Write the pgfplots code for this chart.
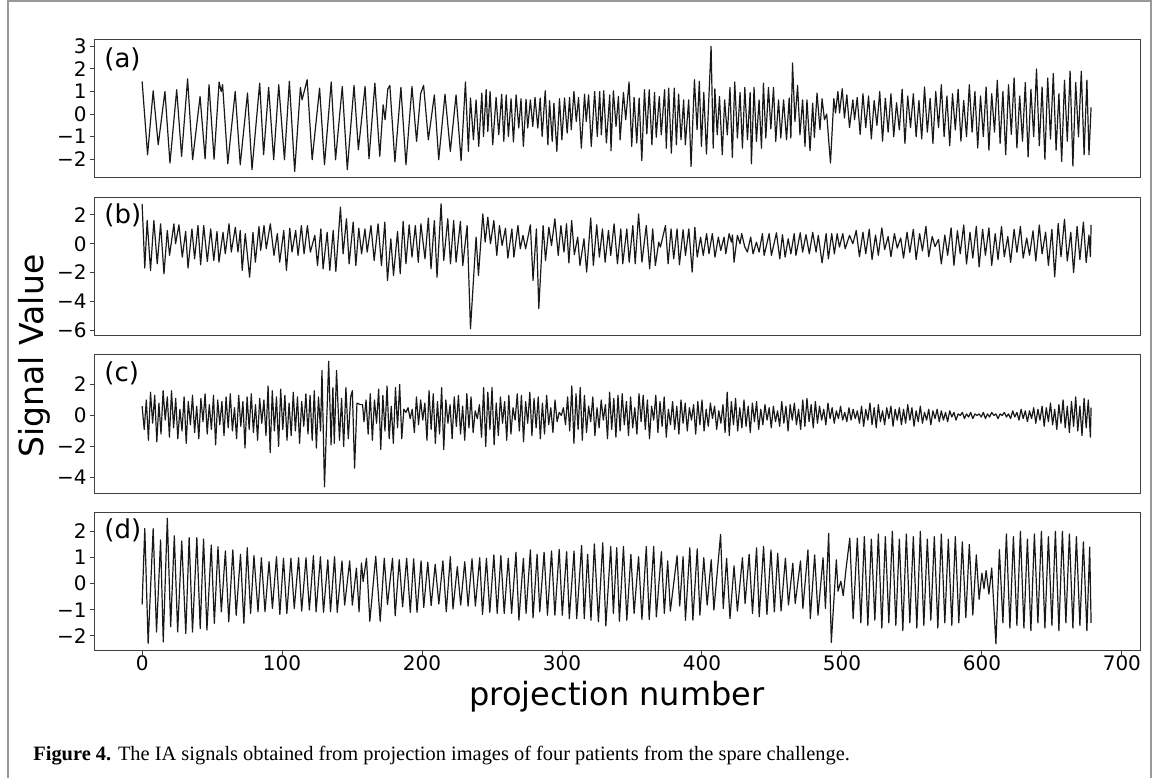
\documentclass[border=0pt]{standalone}
\usepackage{fontspec}
\setmainfont{DejaVu Sans}
\newfontfamily\capfont{Liberation Serif}
\usepackage{pgfplots}
\pgfplotsset{compat=1.18}
\pgfplotsset{
  panel/.style={
    scale only axis, width=522.7pt, height=69pt,
    xmin=-33.95, xmax=712.95,
    axis line style={black!75, line width=0.5pt},
    every tick/.style={black!75, line width=0.5pt},
    major tick length=2.5pt,
    tick align=outside,
    ytick pos=left, xtick pos=bottom,
    ticklabel style={font=\fontsize{10}{11}\selectfont},
    yticklabel style={xshift=2pt},
    xticklabel style={yshift=3.3pt},
    /pgf/number format/assume math mode=true,
  },
  sig/.style={black!90, line width=0.6pt, mark=none, line join=round},
}
\tikzset{plab/.style={anchor=west, inner sep=0pt, font=\fontsize{13}{13}\selectfont}}
\begin{document}
\begin{tikzpicture}
\draw[black!40, line width=0.6pt] (4pt,0pt) -- (4pt,388.5pt) -- (575.5pt,388.5pt) -- (575.5pt,0pt);
\path (0,0) rectangle (576.5pt,389pt);
% (a)
\begin{axis}[panel, at={(47.3pt,300pt)}, anchor=south west, ymin=-2.83, ymax=3.28, xtick=\empty,
  ytick={-2,-1,0,1,2,3}, yticklabels={−2,−1,0,1,2,3}]
\addplot[sig] coordinates {
(0,1.45)(3.9,-1.8)(7.9,1.03)(11.5,-1.36)(16.3,1.0)(19.9,-2.17)(24.7,1.08)(28.2,-1.87)(32.5,1.56)(36.1,-2.02)(41.4,0.78)(45,-1.98)(47.8,1.3)(51.4,-2.0)(55,1.42)(56.5,1.0)(57.5,1.3)(61.2,-2.2)(66.5,1.0)(70.1,-2.24)(75.3,0.93)(78.5,-2.46)(84,1.37)(86.8,-1.8)(90.4,1.18)(94,-2.02)(97.6,1.3)(101.7,-2.02)(105.2,1.45)(109,-2.54)(113.1,1.18)(114.3,0.63)(117.9,1.52)(121.5,-2.02)(126.8,1.15)(130.3,-2.24)(135.1,1.42)(138.2,-2.02)(143,1.22)(146.6,-2.46)(151.4,1.27)(154.5,-1.58)(159.3,1.22)(162.1,-1.98)(166.3,1.37)(169.8,-1.87)(172.2,0.41)(173.6,-0.25)(175.5,1.1)(177,1.27)(180.6,-2.12)(184.9,1.18)(188.5,-2.24)(192.8,1.22)(196.1,-1.21)(199,0.9)(201.1,1.27)(204.5,-1.14)(208.8,0.85)(211.9,-2.02)(216.4,0.88)(220.2,-1.65)(224.3,0.85)(227.9,-2.06)(231,1.42)(233.1,-1.65)(234.6,0.71)(236.7,-1.14)(238.6,0.63)(240.5,-1.43)(242.7,0.93)(243.9,-0.99)(245.8,1.08)(247,-0.77)(248.6,1.0)(250.5,-1.36)(252.9,0.74)(254.8,-0.92)(256.9,0.88)(258.4,-1.21)(260.1,0.85)(261.7,-0.99)(263.6,0.68)(265.3,-1.24)(267.2,0.85)(269.1,-0.62)(270.7,0.68)(272.4,-1.43)(274.3,0.66)(275.5,-0.62)(277.4,0.63)(279.1,-0.55)(280.7,0.74)(282.7,-0.62)(284.4,0.71)(285.8,-0.99)(288,1.03)(289.9,-1.36)(291.1,0.59)(293,-1.21)(294.2,0.48)(296.3,-1.65)(298.2,0.68)(299.9,-1.14)(301.8,0.71)(303.7,-0.84)(305.4,0.74)(306.6,-0.69)(308.5,1.0)(310.2,-0.33)(311.8,0.74)(313.8,-1.51)(316.1,0.88)(317.3,-0.33)(319,0.85)(320.9,-1.43)(323.3,1.0)(325.2,-0.99)(326.9,1.0)(328.1,-0.92)(329.8,1.03)(331.7,-1.28)(334.1,0.85)(335,-1.62)(336.7,1.03)(338.6,-0.55)(340.3,0.78)(341.5,-1.14)(343.9,0.96)(345.5,-0.25)(347.9,1.42)(349.8,-1.43)(351.5,0.74)(353.4,-1.28)(355.1,0.71)(357,-2.06)(358.9,1.08)(360.6,-0.88)(362.3,1.08)(364.2,-1.36)(366.1,0.96)(367.3,-1.03)(369.5,0.78)(370.9,-0.92)(373.3,1.08)(374.5,-1.51)(376.2,1.15)(378.1,-1.73)(380.2,1.15)(381.7,-1.36)(383.3,0.88)(385,-1.14)(386.9,0.63)(388.1,-1.36)(390.5,0.63)(392.2,-2.32)(394.6,1.52)(396.5,-0.69)(398.1,1.45)(399.6,-1.43)(401.3,0.96)(403.2,-1.77)(406.5,3.0)(408,-1.51)(409.2,1.12)(410.9,-0.92)(412.5,0.78)(414.5,-1.8)(416.2,0.63)(418.1,-0.92)(420,1.18)(421.7,-1.92)(423.4,1.42)(425.3,-1.06)(427.2,0.96)(428.9,-1.51)(430.6,1.18)(432.5,-1.14)(434.4,0.96)(435.3,-2.2)(437.2,1.18)(438.9,-1.21)(440.8,0.63)(442.5,-1.51)(443.9,1.37)(445.6,-1.06)(447.5,1.18)(449.2,-0.65)(451.1,1.18)(452.7,-1.21)(454.7,0.63)(456.3,-1.06)(458.3,0.63)(460.4,-1.14)(462.3,0.71)(463.5,-1.06)(464.7,2.26)(466.4,-0.33)(468.3,1.27)(470,-0.92)(471.9,0.63)(473.6,-1.43)(475,0.63)(477.2,-1.62)(479.1,0.48)(480.3,-1.03)(482.2,0.93)(484.3,-0.69)(485.8,0.68)(487.5,-0.25)(489.1,0.0)(491.8,-2.17)(494.2,0.68)(495.4,0.05)(497.1,1.0)(498.3,0.05)(500.2,1.12)(501.8,-0.18)(503.5,0.85)(505.4,-0.6)(507.8,0.63)(509,-0.25)(510.9,0.74)
(513,-0.9)(515,0.9)(517,-0.6)(519,0.8)(521,-1.1)(523,0.6)(525,-0.5)(527,1.0)(529,-1.2)(531,0.7)(533,-0.8)(535,0.9)(537,-1.0)(539,0.5)(541,-0.7)(543,1.1)(545,-1.3)(547,0.8)(549,-0.6)(551,0.9)(553,-1.0)(555,0.6)(557,-1.1)(559,1.2)(561,-0.8)(563,0.7)(565,-1.3)(567,1.0)(569,-0.6)(571,1.3)(573,-1.0)(575,0.8)(577,-1.4)(579,0.9)(581,-0.7)(583,1.1)(585,-1.2)(587,0.6)(589,-1.0)(591,1.3)(593,-0.8)(595,1.0)(597,-1.5)(599,0.8)(601,-1.0)(603,1.2)(605,-1.6)(607,0.9)(609,-0.8)(611,1.5)(613,-1.3)(615,1.0)(617,-1.8)(619,1.3)(621,-0.9)(623,1.6)(625,-1.5)(627,0.8)(629,-1.2)(631,1.4)(633,-1.9)(635,1.1)(637,-1.0)(639,2.0)(641,-1.4)(643,1.2)(645,-2.0)(647,1.6)(649,-1.1)(651,1.8)(653,-1.6)(655,0.9)(657,-2.1)(659,1.5)(661,-1.2)(663,1.9)(665,-2.3)(667,1.4)(669,-1.0)(671,1.9)(673,-1.8)(675,1.5)(676.5,-1.8)(678,0.3)
};
\node[plab] at (rel axis cs:0.009,0.86) {(a)};
\end{axis}
% (b)
\begin{axis}[panel, at={(47.3pt,221.5pt)}, anchor=south west, ymin=-6.33, ymax=3.24, xtick=\empty,
  ytick={-6,-4,-2,0,2}, yticklabels={−6,−4,−2,0,2}]
\addplot[sig] coordinates {
(0,2.77)(1.9,-1.69)(3.6,1.61)(6,-1.85)(8.4,1.61)(10.8,-1.39)(13.2,1.38)(15.6,-2.09)(18,0.92)(19.6,-0.81)(22.7,1.38)(23.9,0)(26.3,1.31)(28.7,-0.93)(31.1,0.85)(32.8,-1.69)(35.6,1.03)(37.5,-1.05)(39.9,1.26)(41.8,-1.46)(44,1.26)(46.6,-1.23)(49,1.03)(51.2,-1.16)(53.5,0.85)(54.9,-1.28)(57.8,0.79)(59.4,-0.7)(62.1,1.38)(63.7,-0.58)(66.6,1.14)(68.5,-0.58)(70.1,0.92)(71.5,-1.85)(73.7,0.7)(76.8,-2.32)(79.2,0.79)(80.9,-1.28)(83.5,1.2)(84.7,-0.46)(87.1,1.26)(88.7,-0.35)(91.6,1.38)(94.2,-0.81)(96.6,0.7)(98.3,-1.28)(101.2,0.92)(103.1,-1.85)(105.5,1.08)(107.1,-0.58)(109.7,0.92)(111.4,-0.81)(113.8,1.26)(115.7,-0.7)(118.1,1.26)(120.2,-0.58)(123.4,0.58)(125.3,-1.51)(127.7,1.03)(129.3,-1.74)(132.2,0.79)(134.1,-1.85)(136.5,0.92)(138.4,-1.92)(141.7,2.54)(143.6,-0.7)(146,1.73)(147.9,-1.39)(150.8,1.5)(152.7,-1.51)(154.8,1.08)(156.8,-0.7)(159.2,1.03)(160.8,-0.58)(163.5,1.26)(165.8,-1.16)(168.6,1.38)(171,-1.51)(173.4,1.5)(175.3,-2.55)(177.7,0.34)(179.6,-2.2)(182.5,0.85)(184.4,-2.09)(186.5,1.55)(188.5,-1.39)(190.8,1.31)(192.8,-0.93)(195.2,1.26)(197.3,-1.28)(199.2,1.38)(202.1,-1.05)(204.5,1.78)(206.4,-1.74)(208.8,1.61)(210.7,-2.32)(213.6,2.77)(215.5,-1.16)(218.4,1.73)(220.3,-1.39)(222.6,1.61)(224.3,-1.28)(227.4,1.55)(229.1,-1.51)(232.2,1.26)(234.6,-5.9)(238.6,0.46)(240.3,-2.2)(243.4,2.07)(245.1,0.11)(247,1.84)(248.9,0)(251.3,1.61)(253.4,-0.81)(255.3,1.26)(257.2,-0.12)(259.6,1.08)(261.3,-1.0)(264.2,1.03)(265.6,-0.93)(268.5,1.26)(270.2,-0.35)(272.1,0.58)(274,-0.35)(277.4,1.31)(279.3,-2.55)(281.7,1.03)(283.4,-4.5)(286.5,1.26)(288.2,-1.16)(290.6,1.14)(292.5,-0.12)(294.9,1.73)(297.3,-0.81)(299.2,1.26)(301.4,-0.58)(303.2,1.38)(304.9,-1.33)(306.9,1.61)(308.8,-0.76)(311.2,0.46)(312.8,-1.51)(315.7,0.34)(317.6,-1.97)(320.5,1.78)(322.4,-1.51)(324.8,1.31)(326.7,-0.93)(328.9,1.03)(330.8,-1.28)(333.2,0.92)(334.8,-0.81)(337.2,1.38)(339.6,-1.39)(342,1.03)(343.4,-1.39)(346.3,1.03)(348,-1.28)(350.6,1.26)(352.3,-1.39)(354.7,2.07)(357.1,-1.28)(360.2,1.26)(362.6,-1.74)(364.8,1.03)(366.7,-1.51)(369.1,0.11)(370.3,-0.23)(373.9,1.26)(375.8,-1.39)(377.9,1.03)(379.8,-1.05)(382.2,1.03)(383.9,-1.46)(386.5,0.97)(388.2,-0.81)(390.6,1.03)(393,-1.97)(394.9,1.14)(396.6,-0.93)(399,0.46)(400.9,-0.81)(403.3,0.7)(405,-0.7)(407.4,0.7)(409.3,-0.93)(411.7,0.46)(413.4,-0.46)(415.8,0.46)(417,-0.7)(419.4,0.7)(421,0.11)(421.8,0.6)(422.9,-1.28)(425.3,0.58)(427.2,0)(428.4,0.7)(430.5,-0.2)(432.4,-0.58)(434.8,0.46)(436.5,-0.7)(438.9,0.11)(440.8,-0.58)(443.2,0.7)(444.4,-0.81)(448,0.7)(449.6,-0.81)(453.2,0.76)(455.6,-1.05)(457.5,0.63)(459.4,-0.93)(461.6,0.34)(463.5,-0.7)(465.9,0.7)(467.1,-0.81)(470.2,0.76)(471.9,-0.58)(474.3,0.63)(476.7,-0.7)(479.1,0.79)(481.5,-0.58)(483.1,0.58)(485.8,-1.33)(488.7,0.7)(490.3,-1.05)(492.7,0.7)(494.6,-0.7)(496.6,0.7)(498.2,-0.23)(500.6,0.7)(502.3,-0.35)(505.4,0.58)(507.8,0)(510.2,0.92)
(512.5,-0.9)(515,0.8)(517,-0.7)(519.5,1.0)(521.5,-1.1)(524,0.6)(526,-0.8)(528.5,1.1)(530.5,-0.4)(533,0.5)(535,-0.9)(537.5,0.7)(539.5,-0.3)(542,0.4)(544,-1.0)(546.5,0.8)(548.5,-0.6)(551,1.0)(553,-1.1)(555.5,0.7)(557.5,-0.5)(560,1.2)(562,-0.9)(564.5,0.5)(566.5,-0.2)(569,0.3)(571,-1.4)(573.5,0.6)(575.5,-0.8)(578,1.1)(580,-1.5)(582.5,0.9)(584.5,-0.7)(587,1.3)(589,-1.4)(591.5,0.8)(593.5,-1.0)(596,1.2)(598,-1.6)(600.5,1.0)(602.5,-0.8)(605,1.1)(607,-1.5)(609.5,0.7)(611.5,-1.1)(614,1.2)(616,-0.9)(618.5,0.5)(620.5,-1.3)(623,1.0)(625,-0.6)(627.5,1.2)(629.5,-1.0)(632,0.4)(634,-0.8)(636.5,0.9)(638.5,-1.2)(641,1.3)(643,-0.7)(645.5,0.8)(647.5,-1.5)(650,1.0)(652,-2.3)(654.5,1.4)(656.5,-0.9)(659,1.7)(661,-1.2)(663.5,0.8)(665.5,-2.0)(668,1.2)(670,-1.1)(672.5,1.5)(674.5,-1.3)(676.5,0.6)(677.5,-0.9)(678,1.3)
};
\node[plab] at (rel axis cs:0.009,0.87) {(b)};
\end{axis}
% (c)
\begin{axis}[panel, at={(47.3pt,142.5pt)}, anchor=south west, ymin=-5.0, ymax=3.9, xtick=\empty,
  ytick={-4,-2,0,2}, yticklabels={−4,−2,0,2}]
\addplot[sig] coordinates {
(0,0.6)(1.5,-0.9)(3,1.0)(4.5,-1.6)(6,1.5)(7.5,-0.5)(9,1.3)(10.5,-1.7)(12,0.8)(13.5,-1.2)(15,1.6)(16.5,-0.3)(18,1.2)(19.5,-1.4)(21,1.6)(22.5,-0.8)(24,1.1)(25.5,-1.5)(27,0.4)(28.5,-1.0)
(30,1.2)(31.5,-1.8)(33,0.9)(34.5,-0.6)(36,1.3)(37.5,-1.1)(39,0.6)(40.5,-1.5)(42,1.1)(43.5,-0.4)(45,1.4)(46.5,-1.2)(48,0.7)(49.5,-0.9)(51,1.3)(52.5,-1.9)(54,1.0)(55.5,-0.6)(57,0.9)(58.5,-1.3)
(60,1.2)(61.5,-0.8)(63,1.4)(64.5,-1.0)(66,0.5)(67.5,-1.5)(69,1.3)(70.5,-0.7)(72,0.9)(73.5,-2.1)(75,1.2)(76.5,-0.9)(78,1.4)(79.5,-1.1)(81,0.7)(82.5,-1.6)(84,1.1)(85.5,-0.5)(87,1.0)(88.5,-1.3)
(90,1.9)(91.5,-2.4)(93,1.6)(94.5,-1.0)(96,1.2)(97.5,-2.0)(99,1.7)(100.5,-0.9)(102,1.3)(103.5,-1.6)(105,0.8)(106.5,-1.3)(108,1.5)(109.5,-1.0)(111,1.2)(112.5,-1.8)(114,0.9)(115.5,-0.7)(117,1.4)(118.5,-1.2)
(120,1.3)(121.5,-1.6)(123,1.6)(124.5,-2.1)(126,1.2)(127.5,-1.0)
(128.5,2.9)(130.3,-4.6)(133.3,3.5)(135,-1.9)(136.3,1.8)(137.3,-1.8)(138.9,2.9)(141,-1.6)(142.5,1.1)(144,-2.0)(145.6,1.8)(147.3,-1.5)(149,1.2)(150.2,1.6)(151.8,-3.4)(153.5,0.8)(156,0.7)(157.5,0.7)(158.5,-0.4)(160,1.0)(161.5,-1.2)(163,1.4)
(164.5,-1.6)(166,1.0)(167.5,-0.5)(169,1.7)(170.5,-2.2)(172,1.3)(173.5,-1.0)(175,1.9)(176.5,-1.5)(178,0.6)(179.5,-1.8)(181,1.8)(182.5,-0.8)(184,2.0)(185.5,-1.5)(187,0.4)(188.5,0.2)(190,0.5)(191.5,-0.2)(193,0.4)
(194.5,-1.1)(196,1.2)(197.5,-0.6)(199,1.0)(200.5,-0.3)(202,0.8)(203.5,-1.6)(205,1.6)(206.5,-0.9)(208,1.4)(209.5,-1.8)(211,0.9)(212.5,-1.2)(214,1.8)(215.5,-2.2)(217,1.0)(218.5,-0.5)(220,0.7)(221.5,-1.5)(223,1.2)
(224.5,-0.7)(226,1.3)(227.5,-1.2)(229,0.6)(230.5,-1.6)(232,1.4)(233.5,-0.8)(235,1.2)(236.5,-1.1)(238,0.3)(239.5,-0.2)(241,0.7)(242.5,-1.4)(244,1.8)(245.5,-2.0)(247,1.5)(248.5,-0.9)(250,1.8)(251.5,-1.9)(253,0.8)
(254.5,-1.3)(256,1.2)(257.5,-0.5)(259,0.9)(260.5,-1.6)(262,1.3)(263.5,-1.2)(265,0.5)(266.5,-0.3)(268,1.4)(269.5,-1.0)(271,1.3)(272.5,-1.7)(274,0.9)(275.5,-0.5)(277,1.5)(278.5,-1.3)(280,1.1)(281.5,-0.8)(283,1.2)
(284.5,-1.5)(286,0.8)(287.5,-1.2)(289,1.3)(290.5,-0.6)(292,0.5)(293.5,-1.1)(295,1.0)(296.5,-0.4)(298,0.2)(299.5,0.0)(301,0.5)(302.5,-0.6)(304,1.2)(305.5,-1.0)(307,1.9)(308.5,-1.8)(310,1.4)(311.5,-0.9)(313,1.8)
(314.5,-1.6)(316,1.3)(317.5,-1.1)(319,0.6)(320.5,-0.4)(322,1.2)(323.5,-1.3)(325,0.5)(326.5,-0.8)(328,1.0)(329.5,-0.3)(331,0.7)(332.5,-1.5)(334,1.5)(335.5,-0.9)(337,1.1)
(338.5,-1.4)(340,1.3)(341.5,-1.0)(343,1.4)(344.5,-0.6)(346,0.9)(347.5,-1.3)(349,1.2)(350.5,-0.8)(352,0.5)(353.5,-1.2)(355,1.4)(356.5,-0.4)(358,1.3)(359.5,-0.9)(361,1.0)(362.5,-1.5)(364,0.6)(365.5,-0.3)(367,1.3)
(368.5,-1.1)(370,0.9)(371.5,-0.7)(373,1.2)(374.5,-1.4)(376,0.4)(377.5,-0.6)(379,0.9)(380.5,-0.9)(382,0.6)(383.5,-1.2)(385,1.0)(386.5,-0.5)(388,0.8)(389.5,-1.0)(391,0.5)(392.5,-0.3)(394,0.7)(395.5,-1.2)(397,0.9)
(398.5,-0.6)(400,1.0)(401.5,-1.0)(403,0.4)(404.5,-0.7)(406,0.8)(407.5,-0.2)(409,0.6)(410.5,-0.9)(412,0.3)(413.5,-0.5)(415,0.7)(416.5,-1.1)(418,1.5)(419.5,-1.3)(421,0.9)(422.5,-0.6)(424,1.1)(425.5,-1.0)(427,0.5)
(428.5,-0.8)(430,1.0)(431.5,-0.7)(433,0.6)(434.5,-1.1)(436,0.8)(437.5,-0.4)(439,0.9)(440.5,-0.9)(442,0.4)(443.5,-0.6)(445,0.7)(446.5,-0.3)(448,0.5)(449.5,-0.8)(451,0.6)(452.5,-0.4)(454,0.3)(455.5,-0.7)(457,0.9)
(458.5,-0.5)(460,0.6)(461.5,-1.0)(463,0.7)(464.5,-0.3)(466,0.8)(467.5,-0.6)(469,0.4)(470.5,-0.9)(472,1.0)(473.5,-0.7)(475,1.1)(476.5,-0.4)(478,0.7)(479.5,-0.8)(481,0.9)(482.5,-0.5)(484,0.6)(485.5,-0.3)(487,0.4)
(488.5,-0.6)(490,0.8)(491.5,-0.2)(493,0.5)(494.5,-0.5)(496,0.3)(497.5,-0.2)(499,0.6)(500.5,-0.3)(502,0.2)(503.5,-0.4)(505,0.5)(506.5,-0.3)(508,0.4)(509.5,-0.2)(511,0.3)
(512.5,-0.5)(514,0.6)(515.5,-0.7)(517,0.4)(518.5,-0.3)(520,0.8)(521.5,-0.6)(523,0.5)(524.5,-0.8)(526,0.7)(527.5,-0.4)(529,0.3)(530.5,-0.6)(532,0.5)(533.5,-0.2)(535,0.6)(536.5,-0.7)(538,0.4)(539.5,-0.3)(541,0.5)
(542.5,-0.6)(544,0.4)(545.5,-0.5)(547,0.7)(548.5,-0.3)(550,0.5)(551.5,-0.7)(553,0.3)(554.5,-0.4)(556,0.6)(557.5,-0.5)(559,0.2)(560.5,-0.3)(562,0.4)(563.5,-0.6)(565,0.3)(566.5,-0.2)(568,0.4)(569.5,-0.4)(571,0.3)
(572.5,-0.3)(574,0.2)(575.5,-0.4)(577,0.3)(578.5,-0.1)(580,0.2)(581.5,-0.3)(583,0.1)(584.5,0.0)(586,0.2)(587.5,-0.2)(589,0.1)(590.5,-0.1)(592,0.2)(593.5,-0.2)(595,0.1)(596.5,0.0)(598,0.1)(599.5,-0.1)(601,0.2)
(602.5,-0.2)(604,0.1)(605.5,-0.1)(607,0.2)(608.5,0.0)(610,0.1)(611.5,-0.2)(613,0.1)(614.5,0.0)(616,0.2)(617.5,-0.1)(619,0.1)(620.5,-0.2)(622,0.3)(623.5,-0.1)(625,0.2)(626.5,-0.3)(628,0.4)(629.5,-0.2)(631,0.3)
(632.5,-0.4)(634,0.3)(635.5,-0.2)(637,0.5)(638.5,-0.5)(640,0.4)(641.5,-0.3)(643,0.6)(644.5,-0.7)(646,0.5)(647.5,-0.4)(649,0.8)(650.5,-0.6)(652,0.4)(653.5,-0.9)(655,0.7)(656.5,-0.5)(658,1.0)(659.5,-0.8)(661,0.6)
(662.5,-1.1)(664,0.9)(665.5,-0.7)(667,1.2)(668.5,-1.0)(670,0.6)(671.5,-1.3)(673,1.1)(674.5,-0.8)(676,1.0)(677.5,-1.4)(678,0.5)
};
\node[plab] at (rel axis cs:0.009,0.87) {(c)};
\end{axis}
% (d)
\begin{axis}[panel, at={(47.3pt,64pt)}, anchor=south west, ymin=-2.54, ymax=2.74,
  xtick={0,100,...,700}, ytick={-2,-1,0,1,2}, yticklabels={−2,−1,0,1,2}]
\addplot[sig] coordinates {
(0,-0.8)(1.9,2.11)(4.3,-2.29)(7.9,2.1)(10.3,-1.85)(13.2,1.67)(15.1,-2.23)(18,2.5)(20.4,-1.65)(23,1.83)(25.4,-1.85)(28.3,1.63)(31.2,-1.91)(33.6,1.76)(36,-1.85)(39.1,1.76)(41.5,-1.72)(43.9,1.71)(46.3,-1.78)(49.4,1.48)(51.6,-1.52)(54.2,1.41)(56.6,-1.08)(59.5,1.25)(61.9,-1.46)(64.8,1.29)(67.2,-1.21)(70.3,1.12)(72.7,-1.52)(75.1,1.37)(77.5,-1.14)(79.9,1.07)(82.8,-1.08)(85.2,0.99)(87.8,-1.08)(90.7,0.84)(93.1,-0.95)(96,1.03)(98.4,-1.18)(101,0.97)(103.4,-1.14)(106.3,0.97)(108.7,-0.95)(111.8,0.99)(114,-1.05)(117.1,0.99)(119.5,-1.01)(122.4,1.07)(124.3,-1.08)(127.4,1.03)(129.6,-1.1)(132.7,0.91)(134.6,-1.08)(137.5,1.03)(139.4,-1.1)(142.8,0.87)(144.7,-0.82)(148.3,0.87)(150.2,-0.82)(153.1,0.59)(155,-1.08)(156.7,0.79)(157.9,0.08)(160.3,0.97)(162.7,-1.44)(166.9,1.05)(170.1,-1.44)(173,0.97)(175.3,-0.8)(178.9,0.97)(180.8,-1.23)(183.7,0.91)(186.1,-0.89)(189,0.97)(191.6,-1.1)(194,0.95)(196.4,-1.1)(199.3,0.87)(201.2,-0.91)(204.1,0.82)(206.5,-0.84)(209.4,0.74)(212,-0.78)(214.9,0.87)(217.3,-1.08)(220.2,1.03)(222.1,-0.97)(225.2,0.65)(227.6,-0.82)(230.5,0.84)(232.9,-0.86)(235.7,0.95)(238.1,-0.86)(241.2,0.99)(243.2,-1.18)(246,0.97)(248.4,-1.1)(251.3,1.1)(253.7,-1.14)(256.3,1.07)(258.7,-1.14)(261.6,0.97)(264,-1.14)(267.1,1.2)(269.2,-1.4)(272.4,0.97)(274.3,-1.14)(277.4,1.29)(279.3,-1.31)(282.2,1.12)(284.1,-1.08)(287.2,1.2)(289.6,-1.21)(292.5,1.25)(294.9,-1.21)(298,1.31)(300.2,-1.21)(303.3,1.22)(305.2,-1.34)(308.6,1.25)(310.5,-1.34)(314,1.46)(315.9,-1.34)(318.3,1.12)(320.7,-1.4)(323.1,1.52)(326,-1.46)(329.1,1.56)(331.3,-1.62)(334.8,1.42)(336.7,-1.14)(339.1,1.37)(341,-1.44)(343.9,1.42)(346.3,-1.4)(349.2,1.12)(351.5,-1.14)(354.7,1.03)(357.1,-1.37)(360.2,1.42)(362.3,-1.37)(365.5,1.42)(367.4,-1.27)(371,1.22)(373.1,-1.14)(375.5,0.87)(377.4,-1.05)(382.2,1.07)(384.1,-0.86)(386.5,1.03)(388.2,-1.4)(391.3,1.37)(393.5,-1.4)(396.6,1.33)(398.5,-1.21)(401.3,0.99)(403.7,-0.82)(406.6,0.91)(408.5,-1.01)(413.3,1.88)(415.2,-0.95)(417.6,0.97)(420,-1.34)(422.9,0.68)(425.3,-1.05)(428.9,0.99)(430.8,-0.76)(433.7,1.12)(436.1,-1.14)(439,1.37)(440.9,-1.27)(444,1.42)(446.4,-1.18)(449.3,1.29)(451.7,-1.08)(454.1,1.16)(456.5,-1.05)(459.6,0.97)(461.8,-0.82)(464.9,0.78)(466.6,-0.76)(470.4,0.87)(472.1,-0.95)(475.7,1.29)(477.4,-1.34)(480.5,1.1)(482.9,-1.21)(486.5,0.99)(488.2,-0.95)(490.5,1.92)(492.4,-2.25)(496,0.91)(497.2,-0.29)(499.2,0.09)(500.9,-0.46)(503,0.6)(505.6,1.74)(508,-1.34)(511,1.74)
(513.5,-1.5)(516,1.8)(518.5,-1.6)(521,1.7)(523.5,-1.4)(526,1.9)(528.5,-1.7)(531,1.8)(533.5,-1.5)(536,2.0)(538.5,-1.6)(541,1.7)(543.5,-1.8)(546,1.9)(548.5,-1.5)(551,1.8)(553.5,-1.7)(556,2.0)(558.5,-1.6)(561,1.7)(563.5,-1.4)(566,1.8)(568.5,-1.7)(571,1.9)(573.5,-1.5)(576,1.7)(578.5,-1.6)(581,1.8)(583.5,-1.5)(586,1.6)(588.5,-1.3)(591,1.5)(593.5,-1.2)(596,1.1)(598,-0.6)(600,0.4)(601.5,-0.2)(603,0.5)(605,-0.4)(607,0.6)(610,-2.3)(612.5,1.3)(615,-1.5)(617.5,1.9)(620,-1.7)(622.5,1.8)(625,-1.6)(627.5,2.0)(630,-1.7)(632.5,1.7)(635,-1.8)(637.5,1.9)(640,-1.5)(642.5,2.0)(645,-1.7)(647.5,1.8)(650,-1.6)(652.5,2.0)(655,-1.8)(657.5,2.0)(660,-1.5)(662.5,1.9)(665,-1.7)(667.5,1.8)(670,-1.6)(672.5,1.6)(675,-1.8)(677,1.4)(678,-1.5)
};
\node[plab] at (rel axis cs:0.009,0.87) {(d)};
\end{axis}
\node[rotate=90, font=\fontsize{16.5}{16.5}\selectfont] at (17pt,211pt) {Signal Value};
\node[font=\fontsize{16}{16}\selectfont] at (308.5pt,40.5pt) {projection number};
\node[anchor=base west, inner sep=0pt, font=\capfont\fontsize{10.2}{12}\selectfont] at (16.5pt,9pt) {\textbf{Figure 4.} The IA signals obtained from projection images of four patients from the spare challenge.};
\end{tikzpicture}
\end{document}
